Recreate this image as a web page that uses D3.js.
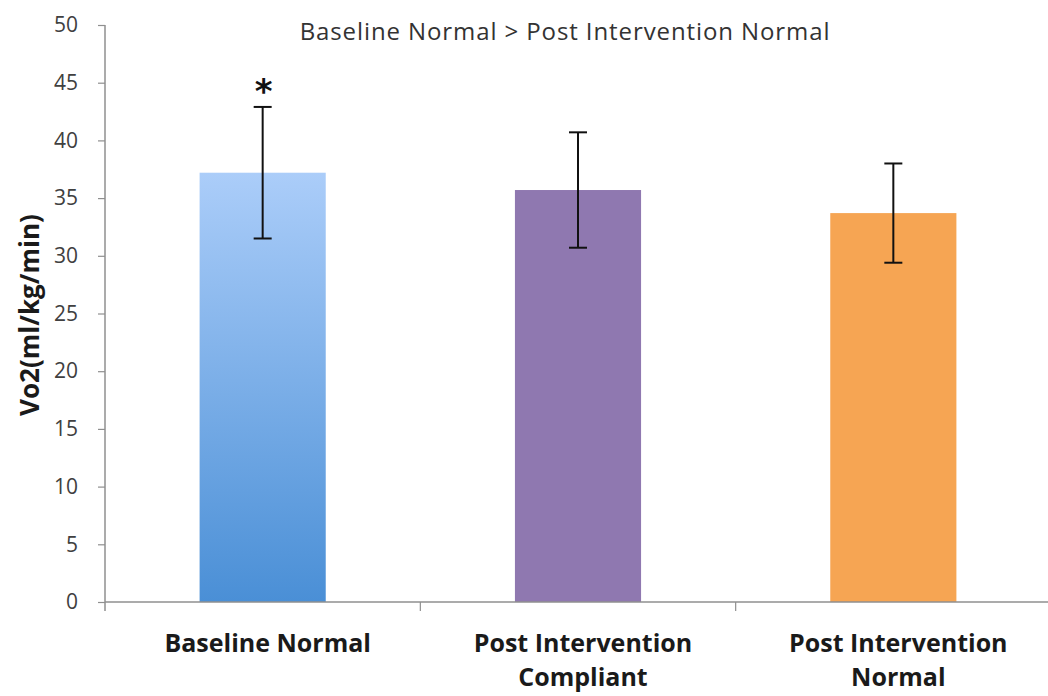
<!DOCTYPE html>
<html>
<head>
<meta charset="utf-8">
<script src="https://cdn.jsdelivr.net/npm/d3@7"></script>
<style>
  html, body { margin: 0; padding: 0; background: #fff; }
  svg { display: block; }
</style>
</head>
<body>
<script>
// VO2 by group: means with standard-deviation error bars
const categories = ["Baseline Normal", "Post Intervention Compliant", "Post Intervention Normal"];
const categoryLines = [["Baseline Normal"], ["Post Intervention", "Compliant"], ["Post Intervention", "Normal"]];
const means = [37.2, 35.7, 33.7];
const errors = [5.7, 5.0, 4.3];
const yTicks = [0, 5, 10, 15, 20, 25, 30, 35, 40, 45, 50];
const significance = ["*", "", ""];
const titleText = "Baseline Normal > Post Intervention Normal";
const yLabel = "Vo2(ml/kg/min)";

const W = 1048, H = 696;
const plotLeft = 105, plotRight = 1051, plotTop = 25, plotBottom = 602;
const font = "'Open Sans', sans-serif";

const svg = d3.select("body").append("svg").attr("width", W).attr("height", H);

const defs = svg.append("defs");
const grad = defs.append("linearGradient").attr("id", "blueFill")
  .attr("x1", 0).attr("y1", 0).attr("x2", 0).attr("y2", 1);
grad.append("stop").attr("offset", "0%").attr("stop-color", "#abcdf9");
grad.append("stop").attr("offset", "100%").attr("stop-color", "#4a8fd6");
const fills = ["url(#blueFill)", "#8f78b0", "#f6a553"];

const x = d3.scaleBand().domain(categories).range([plotLeft, plotRight]);
const y = d3.scaleLinear().domain([0, 50]).range([plotBottom, plotTop]);
const barW = x.bandwidth() * 0.4;

// bars
svg.append("g").selectAll("rect").data(categories).join("rect")
  .attr("x", d => x(d) + (x.bandwidth() - barW) / 2)
  .attr("y", (d, i) => y(means[i]))
  .attr("width", barW)
  .attr("height", (d, i) => y(0) - y(means[i]))
  .attr("fill", (d, i) => fills[i]);

// y axis
const yAxis = svg.append("g").attr("transform", `translate(${plotLeft},0)`)
  .call(d3.axisLeft(y).tickValues(yTicks).tickSize(7).tickPadding(20));
yAxis.select(".domain").attr("stroke", "#8f8f8f").attr("stroke-width", 1.5).attr("d", `M0,${plotTop}V${plotBottom + 9}`);
yAxis.selectAll(".tick line").attr("stroke", "#8f8f8f").attr("stroke-width", 1.2);
yAxis.selectAll(".tick text").attr("fill", "#404040")
  .style("font-family", font).style("font-size", "21px");

// x axis with ticks at category boundaries
const xg = svg.append("g");
xg.append("line").attr("x1", plotLeft).attr("x2", plotRight).attr("y1", y(0)).attr("y2", y(0))
  .attr("stroke", "#8f8f8f").attr("stroke-width", 1.5);
xg.selectAll("line.b").data(categories.slice(1)).join("line").attr("class", "b")
  .attr("x1", d => x(d)).attr("x2", d => x(d))
  .attr("y1", y(0)).attr("y2", y(0) + 9)
  .attr("stroke", "#8f8f8f").attr("stroke-width", 1.2);

// category labels, one text element per line
const lineH = 34;
const labelG = svg.append("g")
  .attr("fill", "#1a1a1a")
  .style("font-family", font).style("font-size", "25px").style("font-weight", "bold")
  .attr("text-anchor", "middle");
categories.forEach((c, i) => {
  categoryLines[i].forEach((s, j) => {
    labelG.append("text")
      .attr("x", x(c) + x.bandwidth() / 2 + 5)
      .attr("y", 652 + j * lineH)
      .text(s);
  });
});

// error bars
const eb = svg.append("g").attr("stroke", "#111").attr("stroke-width", 2);
categories.forEach((c, i) => {
  const cx = x(c) + x.bandwidth() / 2;
  eb.append("line").attr("x1", cx).attr("x2", cx).attr("y1", y(means[i] + errors[i])).attr("y2", y(means[i] - errors[i]));
  eb.append("line").attr("x1", cx - 9).attr("x2", cx + 9).attr("y1", y(means[i] + errors[i])).attr("y2", y(means[i] + errors[i]));
  eb.append("line").attr("x1", cx - 9).attr("x2", cx + 9).attr("y1", y(means[i] - errors[i])).attr("y2", y(means[i] - errors[i]));
});

// significance marks
svg.append("g").selectAll("text").data(categories).join("text")
  .attr("x", d => x(d) + x.bandwidth() / 2 + 1)
  .attr("y", (d, i) => y(means[i] + errors[i]) - 4)
  .attr("text-anchor", "middle")
  .attr("fill", "#111")
  .style("font-family", "'DejaVu Sans', sans-serif").style("font-size", "34px").style("font-weight", "bold")
  .text((d, i) => significance[i]);

// title
svg.append("text").attr("x", 565).attr("y", 40).attr("text-anchor", "middle")
  .attr("fill", "#333")
  .style("font-family", font).style("font-size", "24px").style("letter-spacing", "0.9px")
  .text(titleText);

// y label
svg.append("text").attr("transform", `translate(39,315) rotate(-90)`)
  .attr("text-anchor", "middle").attr("fill", "#1a1a1a")
  .style("font-family", font).style("font-size", "26px").style("font-weight", "bold")
  .text(yLabel);
</script>
</body>
</html>
